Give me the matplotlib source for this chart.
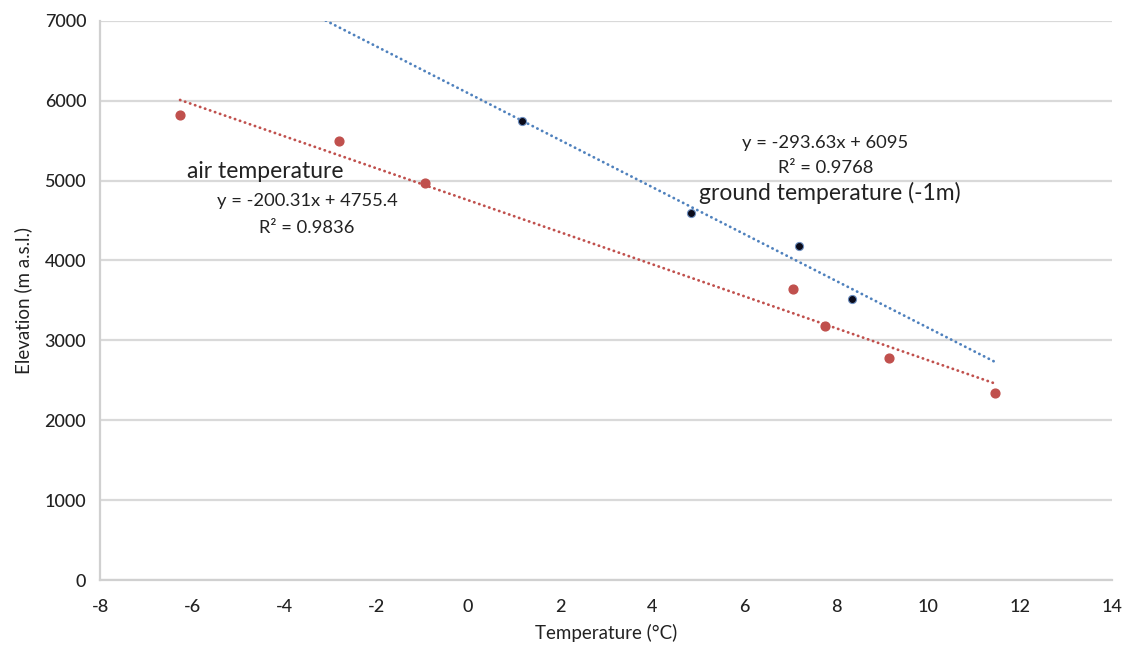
import numpy as np
import matplotlib
matplotlib.use("Agg")
import matplotlib.pyplot as plt

plt.rcParams["font.family"] = ["Lato", "DejaVu Sans"]
plt.rcParams["axes.unicode_minus"] = False

# air temperature points (red)
air_temp = [-6.26, -2.80, -0.93, 7.07, 7.77, 9.15, 11.46]
air_elev = [5815, 5490, 4975, 3645, 3180, 2775, 2340]

# ground temperature (-1m) points (dark)
ground_temp = [1.17, 4.85, 7.20, 8.35]
ground_elev = [5750, 4600, 4180, 3515]

# trendline coefficients from the chart
air_fit = (-200.31, 4755.4)
ground_fit = (-293.63, 6095)
x_ticks = list(range(-8, 15, 2))
y_ticks = list(range(0, 7001, 1000))

red = "#C0504D"
blue = "#4F81BD"

fig = plt.figure(figsize=(11.28, 6.51), dpi=100)
ax = fig.add_axes([0.0887, 0.109, 0.897, 0.859])

# trend lines over the span of all data
xs = np.linspace(min(air_temp), max(air_temp), 200)
dots = (0, (0.1, 1.8))
ax.plot(xs, air_fit[0] * xs + air_fit[1], color=red, lw=2.0,
        linestyle=dots, dash_capstyle="round", zorder=2)
ax.plot(xs, ground_fit[0] * xs + ground_fit[1], color=blue, lw=2.0,
        linestyle=dots, dash_capstyle="round", zorder=2)

ax.scatter(air_temp, air_elev, s=40, color=red, zorder=3)
ax.scatter(ground_temp, ground_elev, s=34, color="#0b0b1a",
           edgecolors="#6d8fc0", linewidths=0.8, zorder=3)

ax.set_xlim(-8, 14)
ax.set_ylim(0, 7000)
ax.set_xticks(x_ticks)
ax.set_yticks(y_ticks)
ax.tick_params(length=0, labelsize=13, colors="#222222")
ax.tick_params(axis="x", pad=14)
ax.tick_params(axis="y", pad=10)
for lab in ax.get_xticklabels() + ax.get_yticklabels():
    lab.set_fontweight("medium")
ax.yaxis.grid(True, color="#d9d9d9", lw=1.6)
ax.set_axisbelow(True)
for s in ["top", "right"]:
    ax.spines[s].set_visible(False)
ax.spines["left"].set_color("#d0d0d0")
ax.spines["bottom"].set_color("#d0d0d0")
ax.spines["left"].set_linewidth(1.6)
ax.spines["bottom"].set_linewidth(1.6)

ax.set_xlabel("Temperature (°C)", fontsize=13.5, color="#222222", labelpad=6)
ax.set_ylabel("Elevation (m a.s.l.)", fontsize=13.5, color="#222222", labelpad=9)

ax.text(-4.4, 5120, "air temperature", fontsize=16.5, color="#222222",
        ha="center", va="center")
ax.text(-3.5, 4740, "y = -200.31x + 4755.4", fontsize=13.2, color="#222222",
        ha="center", va="center")
ax.text(-3.5, 4410, "R² = 0.9836", fontsize=13.2, color="#222222",
        ha="center", va="center")

ax.text(7.77, 5475, "y = -293.63x + 6095", fontsize=13.2, color="#222222",
        ha="center", va="center")
ax.text(7.77, 5160, "R² = 0.9768", fontsize=13.2, color="#222222",
        ha="center", va="center")
ax.text(7.87, 4850, "ground temperature (-1m)", fontsize=16.5, color="#222222",
        ha="center", va="center")

fig.savefig("out.png", dpi=100)
